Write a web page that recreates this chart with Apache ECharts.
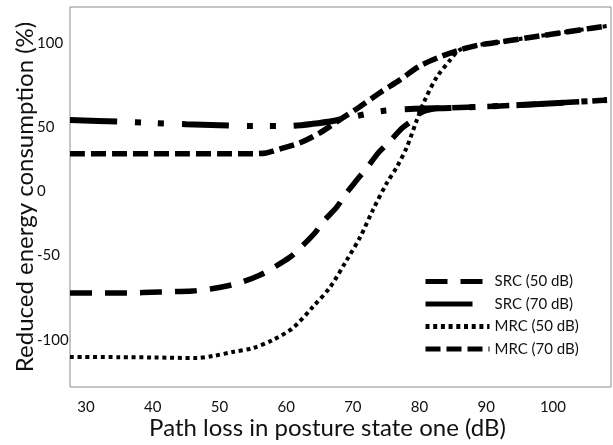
<!DOCTYPE html>
<html>
<head>
<meta charset="utf-8">
<script src="https://cdn.jsdelivr.net/npm/echarts@6/dist/echarts.min.js"></script>
<style>
html,body{margin:0;padding:0;background:#fff;}
#chart{width:613px;height:445px;}
</style>
</head>
<body>
<div id="chart"></div>
<script>
// ---- data ----
const seriesNames = ['SRC (50 dB)', 'SRC (70 dB)', 'MRC (50 dB)', 'MRC (70 dB)'];
const xTicks = [30, 40, 50, 60, 70, 80, 90, 100];
const yTicks = [-100, -50, 0, 50, 100];

const src50 = [[27.6,-70.3],[36,-70.3],[41,-69.6],[46,-68.9],[48.6,-67.5],[51.1,-65.5],[53.4,-62.7],[56.1,-57.8],[58,-53],[60.6,-45.4],[62.1,-39.1],[64.3,-28.7],[65.5,-21.1],[67.6,-10.7],[68.8,-2.4],[70.6,8],[72.1,16.4],[73.8,26.8],[75.3,33.7],[77.4,44.1],[78.6,48.3],[80.1,54.5],[82,57.3],[84.6,58],[92,59.4],[98,60.7],[108.1,63.5]];
const src70 = [[27.6,49.7],[35,48.5],[40,47.6],[45,46.7],[50,46],[55,45.5],[60,45.5],[64,47],[67.6,49.5],[70.6,52.4],[74.4,55.9],[78.6,57.3],[84.6,58],[92,59.4],[98,60.7],[108.1,63.5]];
const mrc50 = [[27.6,-114.7],[35,-114.8],[40,-115],[46.6,-115.4],[49,-114],[52,-111.2],[55,-108.5],[58,-102.9],[61,-94.6],[64,-80],[66.6,-66.2],[69.1,-47.4],[71.1,-31.5],[73,-12.8],[75.1,6],[76.6,17.1],[78.1,30.9],[79.6,49.7],[80.8,63.5],[82.6,79.5],[84.6,91.3],[86,98.2],[89,101.7],[92,103.7],[95,105.8],[98,107.9],[101,110],[104,112.1],[108.1,114.8]];
const mrc70 = [[27.6,26.3],[35,26.3],[40,26.3],[45,26.3],[50,26.3],[55,26.3],[57,26.8],[59,29.5],[62,33.7],[65,40.6],[68,49.7],[71,58.7],[74,68.4],[77,77.3],[80,87],[83,93.3],[86,98.2],[89,101.7],[92,103.7],[95,105.8],[98,107.9],[101,110],[104,112.1],[108.1,114.8]];

const FONT = 'Lato, "Open Sans", sans-serif';

const chart = echarts.init(document.getElementById('chart'), null, {renderer: 'canvas'});

function mk(name, data, width, dash) {
  return {
    name: name,
    type: 'line',
    data: data,
    smooth: 0.3,
    symbol: 'none',
    showSymbol: false,
    lineStyle: {color: '#000', width: width, type: dash, cap: 'butt'},
    itemStyle: {color: '#000'},
    emphasis: {disabled: true},
    animation: false
  };
}

const labelShift = {'100': 'up4', '50': 'dn8', '0': 'n', '-50': 'up9', '-100': 'dn4'};
const base = {fontFamily: FONT, fontSize: 15, color: '#111', align: 'left'};

chart.setOption({
  animation: false,
  backgroundColor: '#fff',
  grid: {left: 70, right: 2, top: 7, bottom: 58, show: true, borderColor: '#8c8c8c', borderWidth: 1, backgroundColor: 'transparent', containLabel: false, outerBoundsMode: 'none'},
  legend: {
    data: seriesNames,
    orient: 'vertical',
    left: 418,
    top: 269,
    itemWidth: 64,
    itemHeight: 14,
    itemGap: 7.5,
    textStyle: {fontFamily: FONT, fontSize: 15, color: '#111'},
    itemStyle: {color: 'transparent', borderColor: 'transparent', borderWidth: 0, opacity: 0},
    lineStyle: {width: 5, type: 'inherit', color: '#000', cap: 'butt'}
  },
  xAxis: {
    type: 'value',
    min: 27.6,
    max: 108.7,
    axisLine: {show: false},
    axisTick: {show: false},
    splitLine: {show: false},
    axisLabel: {customValues: xTicks, fontFamily: FONT, fontSize: 15, color: '#111', margin: 13},
    name: 'Path loss in posture state one (dB)',
    nameLocation: 'middle',
    nameGap: 29,
    nameMoveOverlap: false,
    nameTextStyle: {fontFamily: FONT, fontSize: 24, color: '#111', padding: [0, 26, 0, 0]}
  },
  yAxis: {
    type: 'value',
    min: -135.5,
    max: 128,
    axisLine: {show: false},
    axisTick: {show: false},
    splitLine: {show: false},
    axisLabel: {
      customValues: yTicks,
      fontFamily: FONT, fontSize: 15, color: '#111', align: 'left', margin: 33,
      formatter: function (v) { return '{' + (labelShift[String(v)] || 'n') + '|' + v + '}'; },
      rich: {
        n: Object.assign({}, base),
        up4: Object.assign({padding: [0, 0, 8, 0]}, base),
        dn8: Object.assign({padding: [16, 0, 0, 0]}, base),
        up9: Object.assign({padding: [0, 0, 18, 0]}, base),
        dn4: Object.assign({padding: [8, 0, 0, 0]}, base)
      }
    },
    name: 'Reduced energy consumption (%)',
    nameLocation: 'middle',
    nameGap: 33,
    nameMoveOverlap: false,
    nameTextStyle: {fontFamily: FONT, fontSize: 24, color: '#111'}
  },
  series: [
    mk(seriesNames[0], src50, 5.5, [22, 13]),
    mk(seriesNames[1], src70, 6, [47, 18, 6, 17, 6, 18]),
    mk(seriesNames[2], mrc50, 4, [4, 3.7]),
    mk(seriesNames[3], mrc70, 5.5, [15, 6])
  ]
});
</script>
</body>
</html>
